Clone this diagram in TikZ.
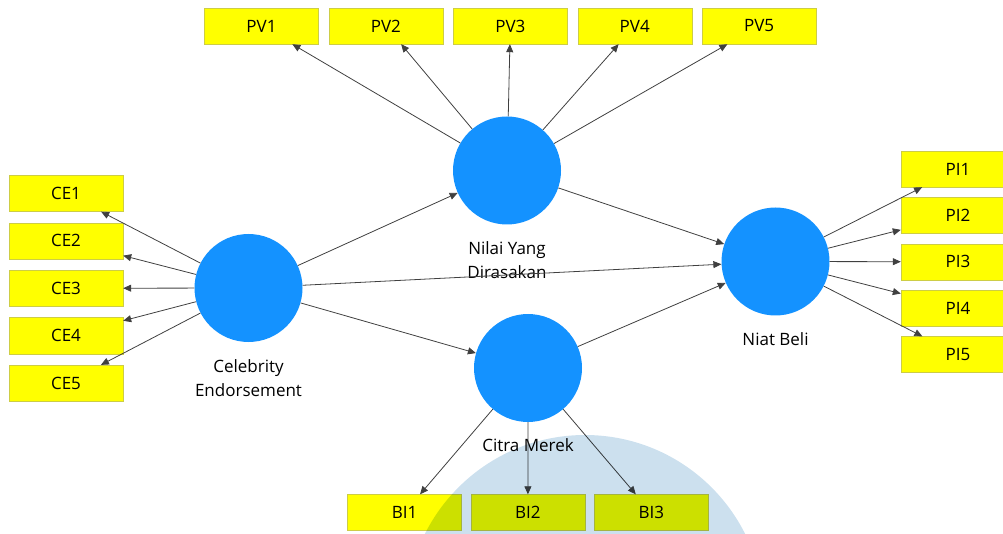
\documentclass[tikz,border=0pt]{standalone}
\usepackage{fontspec}
\setmainfont{Open Sans}
\usetikzlibrary{arrows.meta, positioning}
\definecolor{lvblue}{RGB}{20,146,255}
\definecolor{indyellow}{RGB}{255,255,0}
\definecolor{indborder}{RGB}{205,205,70}
\definecolor{wmblue}{RGB}{204,224,238}

\begin{document}
\begin{tikzpicture}[
    x=1pt, y=-1pt,
    font=\fontsize{17}{24}\selectfont,
    latent/.style={circle, fill=lvblue, minimum size=108pt, inner sep=0pt},
    ind/.style={draw=indborder, fill=indyellow, minimum width=114pt, minimum height=36pt, inner sep=0pt},
    lbl/.style={align=center, inner sep=2pt},
    flow/.style={-{Triangle[length=8pt, width=7pt]}, draw=black!75, line width=0.8pt},
    node distance=10pt
]
\clip (0,0) rectangle (1003,534);

\node[latent] (ce) at (248.5,288) {};
\node[latent] (pv) at (507,170.5) {};
\node[latent] (niat) at (775.5,261.5) {};
\node[latent] (citra) at (528,368) {};
\node[lbl, below=15pt of ce] (celbl) {Celebrity\\Endorsement};
\node[lbl, below=15pt of pv] (pvlbl) {Nilai Yang\\Dirasakan};
\node[lbl, below=15pt of niat] (niatlbl) {Niat Beli};
\node[lbl, below=14pt of citra] (citralbl) {Citra Merek};

\node[ind] (pv1) at (261.5,26) {PV1};
\node[ind, right=of pv1] (pv2) {PV2};
\node[ind, right=of pv2] (pv3) {PV3};
\node[ind, right=of pv3] (pv4) {PV4};
\node[ind, right=of pv4] (pv5) {PV5};

\node[ind] (ce1) at (66,193.5) {CE1};
\node[ind, below=11pt of ce1] (ce2) {CE2};
\node[ind, below=11pt of ce2] (ce3) {CE3};
\node[ind, below=11pt of ce3] (ce4) {CE4};
\node[ind, below=11pt of ce4] (ce5) {CE5};

\node[ind] (pi1) at (958,169) {PI1};
\node[ind, below=of pi1] (pi2) {PI2};
\node[ind, below=of pi2] (pi3) {PI3};
\node[ind, below=of pi3] (pi4) {PI4};
\node[ind, below=of pi4] (pi5) {PI5};

\node[ind] (bi1) at (404.5,512.5) {BI1};
\node[ind, right=9pt of bi1] (bi2) {BI2};
\node[ind, right=9pt of bi2] (bi3) {BI3};

\draw[flow] (ce) -- (pv);
\draw[flow] (ce) -- (niat);
\draw[flow] (ce) -- (citra);
\draw[flow] (pv) -- (niat);
\draw[flow] (citra) -- (niat);

\draw[flow] (pv) -- (pv1);
\draw[flow] (pv) -- (pv2);
\draw[flow] (pv) -- (pv3);
\draw[flow] (pv) -- (pv4);
\draw[flow] (pv) -- (pv5);
\draw[flow] (ce) -- (ce1);
\draw[flow] (ce) -- (ce2);
\draw[flow] (ce) -- (ce3);
\draw[flow] (ce) -- (ce4);
\draw[flow] (ce) -- (ce5);
\draw[flow] (niat) -- (pi1);
\draw[flow] (niat) -- (pi2);
\draw[flow] (niat) -- (pi3);
\draw[flow] (niat) -- (pi4);
\draw[flow] (niat) -- (pi5);
\draw[flow] (citra) -- (bi1);
\draw[flow] (citra) -- (bi2);
\draw[flow] (citra) -- (bi3);

% watermark
\fill[wmblue, blend mode=multiply] (585,614) circle[radius=179pt];
\end{tikzpicture}
\end{document}
